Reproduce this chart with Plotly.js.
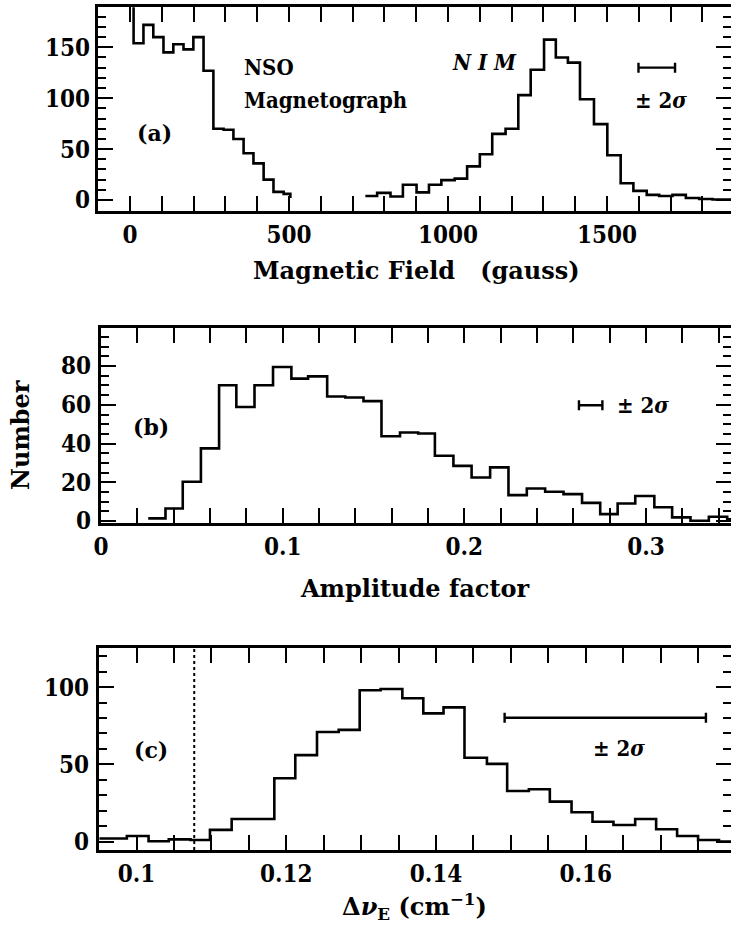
<!DOCTYPE html>
<html><head><meta charset="utf-8">
<script src="https://cdn.plot.ly/plotly-3.0.1.min.js"></script>
<style>html,body{margin:0;padding:0;background:#fff;overflow:hidden}</style>
</head><body><div id="chart" style="width:731px;height:933px"></div>
<script>
// ---------- DATA ----------
// (a) NSO Magnetograph histogram: bin edges (gauss) and counts; first zero-width bin is off-scale spike
const nsoEdges  = [11, 11, 42, 73, 105, 136, 168, 199, 231, 262, 294, 325, 357, 388, 420, 451, 483, 504];
const nsoCounts = [260, 154, 172, 160, 145, 153, 148, 160, 127, 70, 69, 60, 46, 36, 20, 8, 6];
const nsoClose  = 2;
// (a) NIM histogram
const nimEdges  = [740, 777, 819, 858, 901, 940, 979, 1021, 1060, 1100, 1139, 1181, 1221, 1260, 1302, 1339, 1377, 1415, 1459, 1501, 1543, 1583, 1625, 1664, 1706, 1748, 1790, 1832, 1890];
const nimCounts = [4, 7, 3.5, 15, 7.5, 15, 19.5, 21, 33, 45, 65, 70, 103, 128, 157.5, 140, 135, 99, 74.5, 44, 16.5, 9, 5, 4, 5, 2, 1, 0.5];
const errA = {lo: 1599, hi: 1714, y: 130};

// (b) Amplitude factor histogram
const ampEdges  = [0.026, 0.0355, 0.045, 0.055, 0.065, 0.0745, 0.0845, 0.0947, 0.1048, 0.114, 0.1245, 0.1345, 0.1445, 0.1544, 0.1646, 0.1746, 0.1838, 0.194, 0.204, 0.2142, 0.2243, 0.2344, 0.2445, 0.2546, 0.2648, 0.2748, 0.2844, 0.2941, 0.3046, 0.3144, 0.3245, 0.3346, 0.3447, 0.347];
const ampCounts = [1.4, 6.5, 20.3, 37.5, 70.1, 58.9, 70.1, 79.5, 73.5, 74.7, 64.3, 63.8, 61.9, 43.8, 45.7, 45.2, 33.7, 28.5, 22.5, 27.7, 13.4, 16.8, 15.1, 13.9, 9.4, 3.6, 9.1, 12.9, 7.1, 1.9, 0.2, 2.2, 0.9];
const errB = {lo: 0.2631, hi: 0.2760, y: 59.8};

// (c) Delta nu_E histogram (cm^-1)
const dnuEdges  = [0.095, 0.0987, 0.1016, 0.1043, 0.1072, 0.1098, 0.1127, 0.1156, 0.1184, 0.1212, 0.1241, 0.127, 0.1298, 0.1326, 0.1355, 0.1383, 0.141, 0.1438, 0.1468, 0.1495, 0.1524, 0.1552, 0.1581, 0.1609, 0.1637, 0.1666, 0.1694, 0.1722, 0.175, 0.1778, 0.1794];
const dnuCounts = [2, 3.7, 0.3, 1.5, 1.1, 7.6, 14.7, 14.7, 41, 56, 71, 72.3, 98, 98.8, 92.8, 83, 86.9, 54.3, 50.3, 32.8, 33.9, 25.9, 19, 12.9, 10.8, 14.7, 8, 3.7, 1.1, 0];
const dnuCutoff = 0.1077;
const errC = {lo: 0.14916, hi: 0.17605, y: 80.2};

// tick settings
const tickA = {x: 500, xm: 100, y: 50, ym: 10};
const tickB = {x: 0.1, xm: 0.02, y: 20, ym: 5};
const tickC = {x: 0.02, xm: 0.005, y: 50, ym: 10};

// ---------- BUILD ----------
const W = 731, H = 933;
const FONT = '"DejaVu Serif Condensed", "DejaVu Serif", serif';
const FONTW = '"DejaVu Serif", serif';
const NB = '\u00a0';
const TICKFONT = {family: FONT, size: 24, color: 'black', weight: 'bold'};
function dom(l, r, t, b) { return {x: [l / W, Math.min(1, r / W)], y: [1 - b / H, 1 - t / H]}; }
function stepXY(edges, counts, close) {
  const y = counts.slice();
  y.push(close === undefined ? counts[counts.length - 1] : close);
  return {x: edges.slice(), y: y};
}
function hist(edges, counts, close, xa, ya, hidden) {
  const s = stepXY(edges, counts, close);
  return {type: 'scatter', mode: 'lines', x: s.x, y: s.y, xaxis: xa, yaxis: ya,
    line: {shape: 'hv', color: 'black', width: hidden ? 0 : 2.6}, opacity: hidden ? 0 : 1,
    hoverinfo: 'skip', showlegend: false};
}
function errbar(e, xa, ya) {
  return {type: 'scatter', mode: 'markers', x: [(e.lo + e.hi) / 2], y: [e.y], xaxis: xa, yaxis: ya,
    marker: {size: 1, color: 'rgba(0,0,0,0)'}, showlegend: false, hoverinfo: 'skip',
    error_x: {type: 'data', symmetric: true, array: [(e.hi - e.lo) / 2], color: 'black', thickness: 2.4, width: 5}};
}
function axis(domain, range, dtick, mdtick, extra) {
  return Object.assign({
    domain: domain, range: range, tick0: 0, dtick: dtick, autorange: false,
    showline: true, linewidth: 3, linecolor: 'black', mirror: 'allticks',
    ticks: 'inside', ticklen: 15, tickwidth: 2, tickcolor: 'black',
    showgrid: false, zeroline: false, fixedrange: true,
    tickfont: TICKFONT,
    minor: {ticks: 'inside', ticklen: 8, tickwidth: 2, tickcolor: 'black', dtick: mdtick, tick0: 0, showgrid: false}
  }, extra || {});
}
// label-only y axis, placed a little left of the frame (the reference labels sit ~11 px off the frame)
function labelAxis(over, range, dtick, posPx) {
  return {overlaying: over, anchor: 'free', position: posPx / W, side: 'left', range: range, autorange: false,
    tick0: 0, dtick: dtick, showline: false, ticks: '', showgrid: false, zeroline: false, fixedrange: true,
    tickfont: TICKFONT};
}

const dA = dom(98.3, 731, 7.3, 210.7);
const dB = dom(101, 731, 328.3, 523);
const dC = dom(99.3, 731, 647.7, 850);
const rA = [-10.5, 189.3], rB = [-1, 99.5], rC = [-5.4, 125.5];

const traces = [
  hist(nsoEdges, nsoCounts, nsoClose, 'x', 'y'),
  hist(nimEdges, nimCounts, undefined, 'x', 'y'),
  errbar(errA, 'x', 'y'),
  hist(ampEdges, ampCounts, undefined, 'x2', 'y2'),
  errbar(errB, 'x2', 'y2'),
  hist(dnuEdges, dnuCounts, undefined, 'x3', 'y3'),
  errbar(errC, 'x3', 'y3'),
  // invisible copies that bind the label-only axes
  hist(nimEdges, nimCounts, undefined, 'x', 'y4', true),
  hist(ampEdges, ampCounts, undefined, 'x2', 'y5', true),
  hist(dnuEdges, dnuCounts, undefined, 'x3', 'y6', true)
];

function txt(text, x, y, xref, yref, size, opts, fam) {
  return Object.assign({text: text, x: x, y: y, xref: xref, yref: yref, showarrow: false,
    font: {family: fam || FONT, size: size, color: 'black', weight: 'bold'}, xanchor: 'center', yanchor: 'middle'}, opts || {});
}
const annotations = [
  txt('NSO', 352, 131, 'x', 'y', 22, {xanchor: 'left'}),
  txt('Magnetograph', 352, 98, 'x', 'y', 22, {xanchor: 'left'}),
  txt('(a)', 15, 65.5, 'x', 'y', 22, {xanchor: 'left'}, FONTW),
  txt('<i>N I M</i>', 1115, 136, 'x', 'y', 22),
  txt('±' + NB + '2<i>σ</i>', 1671, 98, 'x', 'y', 22),
  txt('(b)', 0.0165, 48.6, 'x2', 'y2', 22, {xanchor: 'left'}, FONTW),
  txt('±' + NB + '2<i>σ</i>', 0.2983, 59.8, 'x2', 'y2', 22),
  txt('(c)', 0.09936, 59.3, 'x3', 'y3', 22, {xanchor: 'left'}, FONTW),
  txt('±' + NB + '2<i>σ</i>', 0.1644, 60.4, 'x3', 'y3', 22),
  // axis titles
  txt('Magnetic Field' + NB + NB + NB + '(gauss)', 416 / W, 1 - 270 / H, 'paper', 'paper', 24, {}, FONTW),
  txt('Amplitude factor', 415 / W, 1 - 588 / H, 'paper', 'paper', 24, {}, FONTW),
  txt('Δ<i>ν</i><sub>E</sub>' + NB + '(cm<sup>−1</sup>)', 414 / W, 1 - 906 / H, 'paper', 'paper', 24, {}, FONTW),
  txt('Number', 20 / W, 1 - 435 / H, 'paper', 'paper', 24, {textangle: -90}, FONTW)
];

const layout = {
  width: W, height: H, margin: {l: 0, r: 0, t: 0, b: 0},
  paper_bgcolor: 'white', plot_bgcolor: 'white', showlegend: false,
  xaxis: axis(dA.x, [-100, 1890], tickA.x, tickA.xm, {anchor: 'y'}),
  yaxis: axis(dA.y, rA, tickA.y, tickA.ym, {anchor: 'x', showticklabels: false}),
  xaxis2: axis(dB.x, [0, 0.3468], tickB.x, tickB.xm, {anchor: 'y2'}),
  yaxis2: axis(dB.y, rB, tickB.y, tickB.ym, {anchor: 'x2', showticklabels: false}),
  xaxis3: axis(dC.x, [0.09502, 0.1794], tickC.x, tickC.xm, {anchor: 'y3'}),
  yaxis3: axis(dC.y, rC, tickC.y, tickC.ym, {anchor: 'x3', showticklabels: false}),
  yaxis4: labelAxis('y', rA, tickA.y, 90),
  yaxis5: labelAxis('y2', rB, tickB.y, 91),
  yaxis6: labelAxis('y3', rC, tickC.y, 89),
  shapes: [{type: 'line', xref: 'x3', yref: 'y3 domain', x0: dnuCutoff, x1: dnuCutoff, y0: 0, y1: 1,
    line: {color: 'black', width: 2, dash: 'dot'}}],
  annotations: annotations
};
Plotly.newPlot('chart', traces, layout, {staticPlot: true, displayModeBar: false});
</script></body></html>
